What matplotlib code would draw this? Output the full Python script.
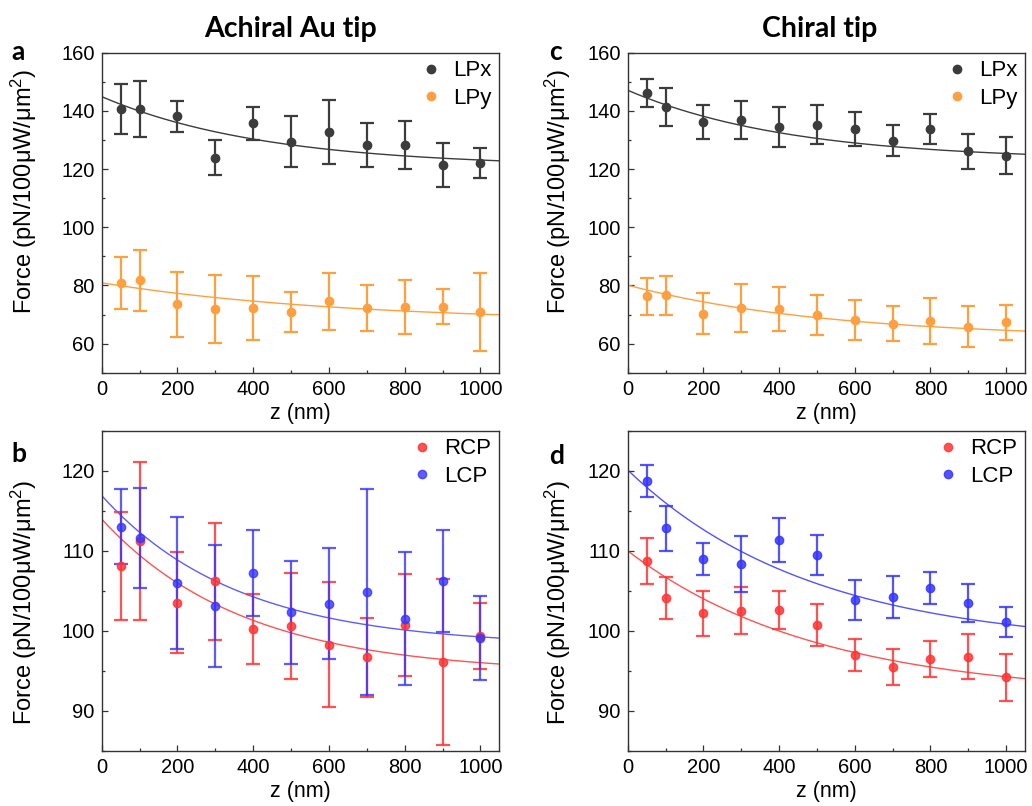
import numpy as np
import matplotlib
matplotlib.use("Agg")
import matplotlib.pyplot as plt
from matplotlib.lines import Line2D
from matplotlib.ticker import MultipleLocator

plt.rcParams['font.family'] = ['Liberation Sans', 'DejaVu Sans']
plt.rcParams['mathtext.fontset'] = 'custom'
plt.rcParams['mathtext.rm'] = 'Liberation Sans'
plt.rcParams['mathtext.it'] = 'Liberation Sans:italic'

# ---------------- data ----------------
z = [50, 100, 200, 300, 400, 500, 600, 700, 800, 900, 1000]

# Panel a (Achiral Au tip, linear polarisation)
a_lpx = [140.7, 140.7, 138.2, 123.9, 135.7, 129.4, 132.7, 128.3, 128.3, 121.3, 122.1]
a_lpx_err = [8.7, 9.7, 5.3, 6.1, 5.7, 8.7, 11.0, 7.6, 8.2, 7.5, 5.3]
a_lpy = [80.9, 81.8, 73.5, 72.0, 72.3, 70.9, 74.5, 72.3, 72.7, 72.7, 71.0]
a_lpy_err = [8.9, 10.5, 11.1, 11.7, 11.1, 6.9, 9.7, 8.0, 9.3, 6.1, 13.4]

# Panel b (Achiral Au tip, circular polarisation)
b_rcp = [108.1, 111.25, 103.5, 106.2, 100.25, 100.6, 98.3, 96.7, 100.7, 96.1, 99.4]
b_rcp_err = [6.8, 9.9, 6.3, 7.3, 4.4, 6.6, 7.8, 4.9, 6.35, 10.4, 4.1]
b_lcp = [113.0, 111.6, 106.0, 103.1, 107.2, 102.3, 103.4, 104.9, 101.5, 106.25, 99.1]
b_lcp_err = [4.7, 6.3, 8.2, 7.6, 5.4, 6.4, 6.9, 12.85, 8.3, 6.4, 5.2]

# Panel c (Chiral tip, linear polarisation)
c_lpx = [146.1, 141.3, 136.1, 136.9, 134.6, 135.3, 133.8, 129.8, 133.7, 126.1, 124.6]
c_lpx_err = [4.8, 6.5, 5.9, 6.6, 6.9, 6.7, 5.9, 5.4, 5.2, 6.1, 6.4]
c_lpy = [76.3, 76.6, 70.3, 72.3, 72.0, 69.9, 68.1, 66.9, 67.8, 65.8, 67.4]
c_lpy_err = [6.3, 6.6, 7.0, 8.2, 7.5, 6.9, 6.9, 5.9, 7.8, 7.0, 6.0]

# Panel d (Chiral tip, circular polarisation)
d_rcp = [108.7, 104.1, 102.2, 102.5, 102.6, 100.75, 97.0, 95.5, 96.5, 96.8, 94.2]
d_rcp_err = [2.9, 2.6, 2.8, 2.95, 2.4, 2.6, 2.0, 2.3, 2.2, 2.75, 2.9]
d_lcp = [118.75, 112.8, 109.0, 108.3, 111.3, 109.5, 103.8, 104.25, 105.4, 103.5, 101.1]
d_lcp_err = [2.0, 2.8, 2.0, 3.5, 2.75, 2.5, 2.5, 2.6, 2.0, 2.4, 1.9]

# Exponential decay fits: y0 + A*exp(-z/t)
fit_a_lpx = [120.7, 24.2, 433]
fit_a_lpy = [67.2, 13.7, 649]
fit_b_rcp = [94.7, 19.26, 374]
fit_b_lcp = [98.1, 18.8, 358]
fit_c_lpx = [123.0, 24.1, 430]
fit_c_lpy = [61.8, 18.3, 530]
fit_d_rcp = [91.8, 18.2, 501]
fit_d_lcp = [98.0, 22.1, 486]

legend_lp = ['LPx', 'LPy']
legend_cp = ['RCP', 'LCP']
titles = ['Achiral Au tip', 'Chiral tip']
panel_letters = ['a', 'b', 'c', 'd']

# ---------------- style ----------------
C_GRAY = '#3c3c3c'
C_ORANGE = '#ffa040'
C_RED = '#ff3535'
C_BLUE = '#3535ff'

W, H = 1032, 806
fig = plt.figure(figsize=(W / 100, H / 100), dpi=100)

def px_axes(l, t, r, b):
    return fig.add_axes([l / W, 1 - b / H, (r - l) / W, (b - t) / H])

ax_a = px_axes(101.7, 52.7, 499.3, 372.7)
ax_b = px_axes(101.7, 430.7, 499.3, 751)
ax_c = px_axes(627.7, 52.7, 1025, 372.7)
ax_d = px_axes(627.7, 430.7, 1025, 751)

zfit = np.linspace(0, 1050, 300)

def fitcurve(p):
    return p[0] + p[1] * np.exp(-zfit / p[2])

def draw(ax, series, ylim, ymajor, labels, ylab_xy):
    handles = []
    for (y, e, p, col, alpha) in series:
        ax.plot(zfit, fitcurve(p), color=col, lw=1.0, alpha=alpha, zorder=2)
        ax.errorbar(z, y, yerr=e, fmt='o', ms=6, color=col, ecolor=col,
                    elinewidth=1.6, capsize=5, capthick=1.6, alpha=alpha,
                    zorder=3)
        handles.append(Line2D([], [], ls='none', marker='o', ms=6,
                              color=col, alpha=alpha))
    ax.set_xlim(0, 1050)
    ax.set_ylim(*ylim)
    ax.xaxis.set_major_locator(MultipleLocator(200))
    ax.xaxis.set_minor_locator(MultipleLocator(100))
    ax.yaxis.set_major_locator(MultipleLocator(ymajor))
    ax.yaxis.set_minor_locator(MultipleLocator(ymajor / 2))
    ax.tick_params(which='both', direction='in', top=False, right=False,
                   labelsize=14.5, width=0.9, color='#333333')
    ax.tick_params(which='major', length=4.5, pad=5)
    ax.tick_params(which='minor', length=2.5)
    for s in ax.spines.values():
        s.set_linewidth(1.0)
        s.set_color('#333333')
    ax.set_xlabel('z (nm)', fontsize=15.5, labelpad=3)
    ax.set_ylabel('Force (pN/100μW/μm$^2$)', fontsize=17)
    ax.yaxis.set_label_coords(*ylab_xy)
    ax.legend(handles, labels, loc='upper right', frameon=False,
              fontsize=16, handlelength=1.0, handletextpad=0.5,
              borderaxespad=0.15, borderpad=0.2, labelspacing=0.3)

draw(ax_a, [(a_lpx, a_lpx_err, fit_a_lpx, C_GRAY, 1.0),
            (a_lpy, a_lpy_err, fit_a_lpy, C_ORANGE, 1.0)],
     (50, 160), 20, legend_lp, (-0.158, 0.566))
draw(ax_c, [(c_lpx, c_lpx_err, fit_c_lpx, C_GRAY, 1.0),
            (c_lpy, c_lpy_err, fit_c_lpy, C_ORANGE, 1.0)],
     (50, 160), 20, legend_lp, (-0.138, 0.566))
draw(ax_b, [(b_rcp, b_rcp_err, fit_b_rcp, C_RED, 0.85),
            (b_lcp, b_lcp_err, fit_b_lcp, C_BLUE, 0.8)],
     (85, 125), 10, legend_cp, (-0.158, 0.465))
draw(ax_d, [(d_rcp, d_rcp_err, fit_d_rcp, C_RED, 0.85),
            (d_lcp, d_lcp_err, fit_d_lcp, C_BLUE, 0.85)],
     (85, 125), 10, legend_cp, (-0.138, 0.465))

title_font = dict(family=['Lato', 'DejaVu Sans'], weight='bold')
fig.text(291 / W, 1 - 37 / H, titles[0], ha='center', va='baseline',
         fontsize=20.5, **title_font)
fig.text(820 / W, 1 - 37 / H, titles[1], ha='center', va='baseline',
         fontsize=20.5, **title_font)

letter_pos = [(11, 60), (11, 462), (549, 60), (549, 464)]
for letter, (lx, ly) in zip(panel_letters, letter_pos):
    fig.text(lx / W, 1 - ly / H, letter, ha='left', va='baseline',
             fontsize=19, **title_font)

fig.savefig('out.png', dpi=100, facecolor='white')
